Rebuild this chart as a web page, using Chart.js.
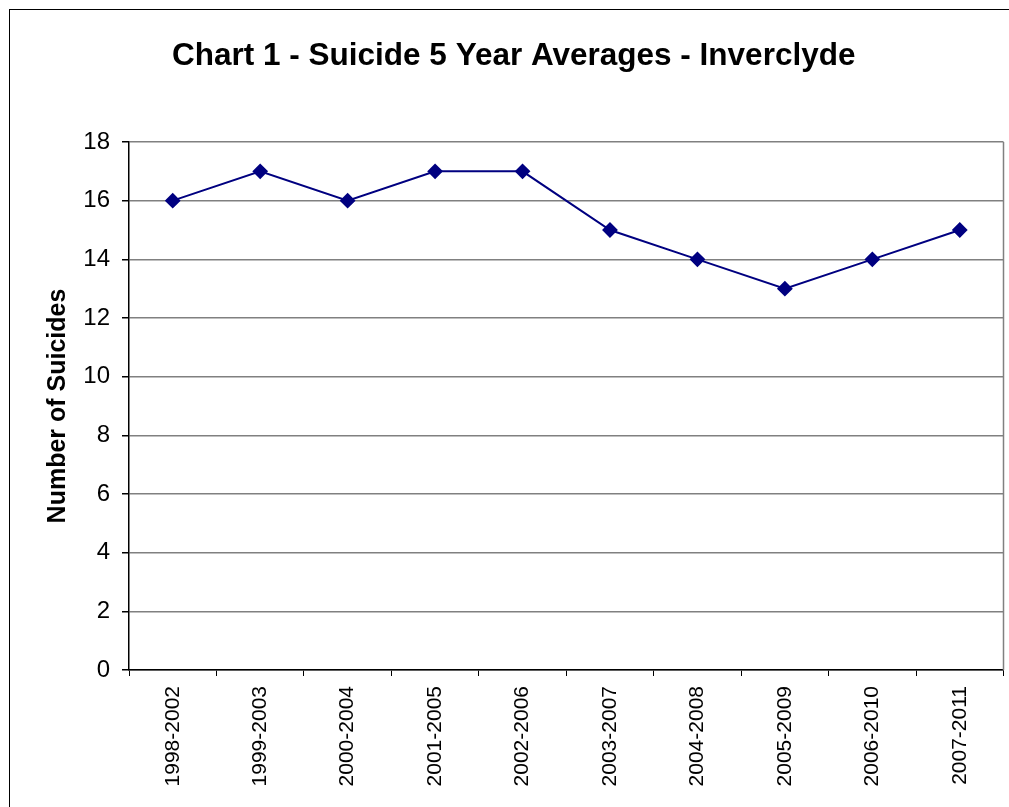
<!DOCTYPE html>
<html><head><meta charset="utf-8">
<script src="https://cdn.jsdelivr.net/npm/chart.js@4"></script>
<style>html,body{margin:0;padding:0;background:#fff}#wrap{width:1009px;height:807px}</style>
</head><body><div id="wrap"><canvas id="c"></canvas></div>
<script>
const categories = ['1998-2002','1999-2003','2000-2004','2001-2005','2002-2006','2003-2007','2004-2008','2005-2009','2006-2010','2007-2011'];
const suicides = [16,17,16,17,17,15,14,13,14,15];
const yTicks = [0,2,4,6,8,10,12,14,16,18];

const frame = {
  id:'frame',
  beforeDraw(chart){
    const ctx = chart.ctx;
    ctx.save();
    ctx.fillStyle='#fff'; ctx.fillRect(0,0,chart.width,chart.height);
    ctx.strokeStyle='#000'; ctx.lineWidth=1;
    ctx.strokeRect(9.5,9.5,3000,3000);
    ctx.restore();
  },
  afterDraw(chart){
    const a = chart.chartArea, ctx = chart.ctx;
    ctx.save();
    ctx.strokeStyle='#808080'; ctx.lineWidth=1.5;
    ctx.beginPath(); ctx.moveTo(a.right, a.top); ctx.lineTo(a.right, a.bottom); ctx.stroke();
    ctx.restore();
  }
};

new Chart(document.getElementById('c'), {
  type:'line',
  data:{labels:categories, datasets:[{data:suicides, borderColor:'#000080', backgroundColor:'#000080', borderWidth:2, pointStyle:'rectRot', pointRadius:6.5, pointHoverRadius:6.5, tension:0}]},
  options:{
    responsive:true, maintainAspectRatio:false, animation:false,
    layout:{autoPadding:false, padding:{left:24,right:5.5,top:0,bottom:0}},
    plugins:{
      legend:{display:false}, tooltip:{enabled:false},
      title:{display:true, text:'Chart 1 - Suicide 5 Year Averages - Inverclyde', color:'#000', font:{family:'Liberation Sans, Arial', size:31.5, weight:'bold'}, padding:{top:37,bottom:67.2}}
    },
    scales:{
      x:{offset:true,
        grid:{display:true, drawOnChartArea:false, drawTicks:true, tickLength:6, color:'#000', offset:true},
        border:{color:'#000', width:1.5},
        ticks:{color:'#000', maxRotation:90, minRotation:90, padding:10, font:{family:'Liberation Sans, Arial', size:21}},
        afterFit(s){ s.height = 137; s.paddingLeft = 0; s.paddingRight = 0; }
      },
      y:{min:0, max:18,
        afterBuildTicks(s){ s.ticks = yTicks.map(v=>({value:v})); },
        grid:{color:'#808080', lineWidth:1.5, tickLength:7, tickColor:'#000'},
        border:{color:'#000', width:1.5},
        ticks:{color:'#000', padding:12, font:{family:'Liberation Sans, Arial', size:24}},
        title:{display:true, text:'Number of Suicides', color:'#000', font:{family:'Liberation Sans, Arial', size:25, weight:'bold'}, padding:{top:19,bottom:0}},
        afterFit(s){ s.width = 105; s.paddingTop = 0; s.paddingBottom = 0; s.paddingLeft = 0; s.paddingRight = 0; }
      }
    }
  },
  plugins:[frame]
});
</script></body></html>
